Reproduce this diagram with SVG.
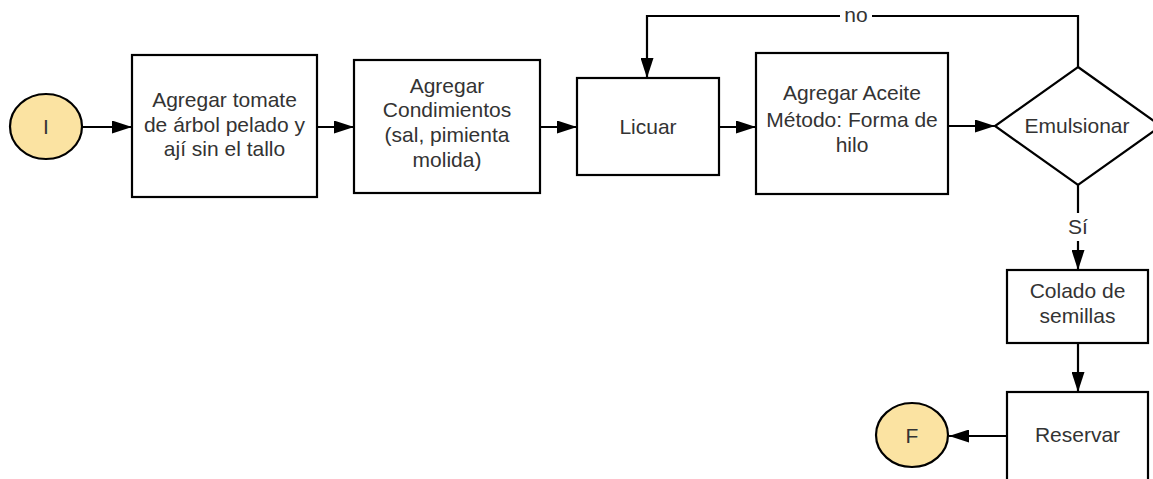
<svg xmlns="http://www.w3.org/2000/svg" width="1153" height="479" viewBox="0 0 1153 479">
  <style>
    .box { fill: #ffffff; stroke: #000000; stroke-width: 2.2; }
    .term { fill: #fbe3a2; stroke: #000000; stroke-width: 2.2; }
    .lbl { font-family: "Liberation Sans", Arial, sans-serif; font-size: 21px; fill: #333333; text-anchor: middle; }
    .edge { fill: none; stroke: #000000; stroke-width: 2.2; marker-end: url(#arrow); }
    .plain { fill: none; stroke: #000000; stroke-width: 2.2; }
    .tag { fill: #ffffff; }
  </style>
  <defs>
    <marker id="arrow" viewBox="0 0 20 13" refX="20" refY="6.5" markerWidth="20" markerHeight="13" markerUnits="userSpaceOnUse" orient="auto">
      <path d="M0,0 L20,6.5 L0,13 Z" fill="#000000"/>
    </marker>
  </defs>
  <rect width="1153" height="479" fill="#ffffff"/>

  <!-- connectors -->
  <g id="connectors">
    <line class="edge" x1="82" y1="127" x2="132" y2="127"/>
    <line class="edge" x1="317" y1="127" x2="354" y2="127"/>
    <line class="edge" x1="540" y1="127" x2="577" y2="127"/>
    <line class="edge" x1="719" y1="127" x2="756" y2="127"/>
    <line class="edge" x1="948" y1="126" x2="995" y2="126"/>
    <!-- "no" loop back to Licuar -->
    <polyline class="edge" points="1078,67 1078,16 647,16 647,78"/>
    <rect class="tag" x="840" y="6" width="32" height="20"/>
    <text class="lbl" x="856" y="22">no</text>
    <!-- "Sí" branch -->
    <line class="edge" x1="1078" y1="185" x2="1078" y2="270"/>
    <rect class="tag" x="1066" y="213" width="24" height="28"/>
    <text class="lbl" x="1078" y="234">Sí</text>
    <line class="edge" x1="1078" y1="343" x2="1078" y2="392"/>
    <line class="edge" x1="1007" y1="436" x2="949" y2="436"/>
  </g>

  <g id="inicio">
    <ellipse class="term" cx="46" cy="126.5" rx="36" ry="32.5"/>
    <text class="lbl" x="46" y="134">I</text>
  </g>

  <g id="agregar-tomate">
    <rect class="box" x="132" y="55" width="185" height="142"/>
    <text class="lbl" x="224.5" y="107">Agregar tomate</text>
    <text class="lbl" x="224.5" y="131.7">de árbol pelado y</text>
    <text class="lbl" x="224.5" y="156.4">ají sin el tallo</text>
  </g>

  <g id="agregar-condimientos">
    <rect class="box" x="354" y="60" width="186" height="133"/>
    <text class="lbl" x="447" y="92.7">Agregar</text>
    <text class="lbl" x="447" y="117.4">Condimientos</text>
    <text class="lbl" x="447" y="142.1">(sal, pimienta</text>
    <text class="lbl" x="447" y="166.8">molida)</text>
  </g>

  <g id="licuar">
    <rect class="box" x="577" y="78" width="142" height="97"/>
    <text class="lbl" x="648" y="134">Licuar</text>
  </g>

  <g id="agregar-aceite">
    <rect class="box" x="756" y="53" width="192" height="141"/>
    <text class="lbl" x="852" y="100">Agregar Aceite</text>
    <text class="lbl" x="852" y="126.7">Método: Forma de</text>
    <text class="lbl" x="852" y="151.7">hilo</text>
  </g>

  <g id="emulsionar">
    <polygon class="box" points="1078,67 1161,126 1078,185 995,126"/>
    <text class="lbl" x="1077" y="133">Emulsionar</text>
  </g>

  <g id="colado">
    <rect class="box" x="1007" y="270" width="141" height="73"/>
    <text class="lbl" x="1077.5" y="298">Colado de</text>
    <text class="lbl" x="1077.5" y="323">semillas</text>
  </g>

  <g id="reservar">
    <rect class="box" x="1007" y="392" width="141" height="100"/>
    <text class="lbl" x="1077.5" y="442">Reservar</text>
  </g>

  <g id="fin">
    <ellipse class="term" cx="912" cy="435" rx="36" ry="32"/>
    <text class="lbl" x="912" y="443">F</text>
  </g>
</svg>
